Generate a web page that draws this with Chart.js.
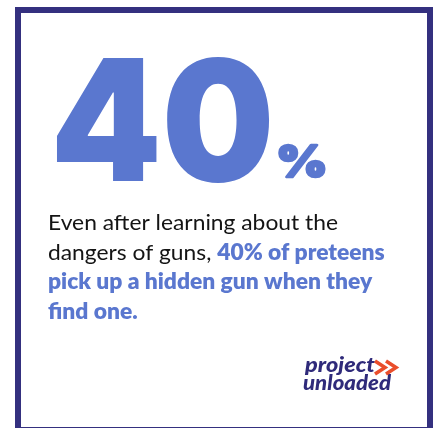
<!DOCTYPE html>
<html>
<head>
<meta charset="utf-8">
<script src="https://cdn.jsdelivr.net/npm/chart.js@4"></script>
<style>
html,body{margin:0;padding:0;background:#fff;overflow:hidden;}
#wrap{width:433px;height:428px;position:relative;}
</style>
</head>
<body>
<div id="wrap"><canvas id="c" width="433" height="428"></canvas></div>
<script>
// ---- data ----
const statValue = [40];
const statUnit = ['%'];
const lineOne = [['Even after learning about the', false]];
const lineTwo = [['dangers of guns, ', false], ['40% of preteens', true]];
const lineThree = [['pick up a hidden gun when they', true]];
const lineFour = [['find one.', true]];
const logoWords = ['project', 'unloaded'];

// ---- style ----
const BORDER = '#34307f';
const BLUE = '#5a77cf';
const INK = '#141414';
const LOGO_NAVY = '#2f2a7a';
const LOGO_RED = '#ea4e2b';
const BIG_FONT = '"Inter", "Lato", "DejaVu Sans", sans-serif';
const BODY_FONT = '"Lato", "Open Sans", sans-serif';

function fitText(ctx, text, font, left, right, top, bottom, color, thicken) {
  ctx.save();
  ctx.font = font;
  const m = ctx.measureText(text);
  const w = m.actualBoundingBoxLeft + m.actualBoundingBoxRight;
  const h = m.actualBoundingBoxAscent + m.actualBoundingBoxDescent;
  const t = thicken || 0;
  const sx = (right - left - t) / w;
  const sy = (bottom - top - t) / h;
  ctx.translate(left + t / 2, bottom - t / 2);
  ctx.scale(sx, sy);
  ctx.fillStyle = color;
  ctx.textBaseline = 'alphabetic';
  ctx.fillText(text, m.actualBoundingBoxLeft, -m.actualBoundingBoxDescent);
  if (t) {
    ctx.strokeStyle = color;
    ctx.lineWidth = t / sx;
    ctx.lineJoin = 'round';
    ctx.strokeText(text, m.actualBoundingBoxLeft, -m.actualBoundingBoxDescent);
  }
  ctx.restore();
}

const infographic = {
  id: 'infographic',
  afterDraw(chart) {
    const ctx = chart.ctx;
    ctx.save();
    // frame
    ctx.strokeStyle = BORDER;
    ctx.lineWidth = 6;
    ctx.strokeRect(18, 10, 412, 420);

    // headline number
    fitText(ctx, String(statValue[0]), '900 170px ' + BIG_FONT, 56, 270, 57, 183, BLUE, 0);
    fitText(ctx, statUnit[0], '900 60px ' + BIG_FONT, 278, 326, 142, 179, BLUE, 3);

    // statement
    const lines = [lineOne, lineTwo, lineThree, lineFour];
    const size = 22;
    ctx.font = '400 ' + size + 'px ' + BODY_FONT;
    const ref = ctx.measureText(lineOne[0][0]).width;
    const sx = 290 / ref;
    const baselines = [230, 259.5, 289, 318.5];
    lines.forEach((segs, i) => {
      ctx.save();
      ctx.translate(48, baselines[i]);
      ctx.scale(sx, 1);
      let x = 0;
      segs.forEach(([t, bold]) => {
        ctx.font = (bold ? '800 ' : '400 ') + size + 'px ' + BODY_FONT;
        ctx.fillStyle = bold ? BLUE : INK;
        ctx.textBaseline = 'alphabetic';
        ctx.fillText(t, x, 0);
        x += ctx.measureText(t).width;
      });
      ctx.restore();
    });

    // logo
    ctx.save();
    ctx.fillStyle = LOGO_NAVY;
    ctx.font = 'italic 900 21px ' + BODY_FONT;
    ctx.textBaseline = 'alphabetic';
    let w1 = ctx.measureText(logoWords[0]).width;
    ctx.save(); ctx.translate(305, 372); ctx.scale(70 / w1, 1); ctx.fillText(logoWords[0], 0, 0); ctx.restore();
    let w2 = ctx.measureText(logoWords[1]).width;
    ctx.save(); ctx.translate(303, 390); ctx.scale(88 / w2, 1); ctx.fillText(logoWords[1], 0, 0); ctx.restore();
    // chevrons
    ctx.strokeStyle = LOGO_RED;
    ctx.lineWidth = 3.6;
    ctx.lineJoin = 'miter';
    [375, 386].forEach((x0) => {
      ctx.beginPath();
      ctx.moveTo(x0, 361);
      ctx.lineTo(x0 + 10, 367.5);
      ctx.lineTo(x0, 374);
      ctx.stroke();
    });
    ctx.restore();
    ctx.restore();
  }
};

new Chart(document.getElementById('c'), {
  type: 'bar',
  data: { labels: ['share'], datasets: [{ data: statValue, backgroundColor: 'rgba(0,0,0,0)', borderWidth: 0 }] },
  options: {
    responsive: false,
    animation: false,
    events: [],
    plugins: { legend: { display: false }, tooltip: { enabled: false }, title: { display: false } },
    scales: { x: { display: false }, y: { display: false, min: 0, max: 100 } }
  },
  plugins: [infographic]
});
</script>
</body>
</html>
